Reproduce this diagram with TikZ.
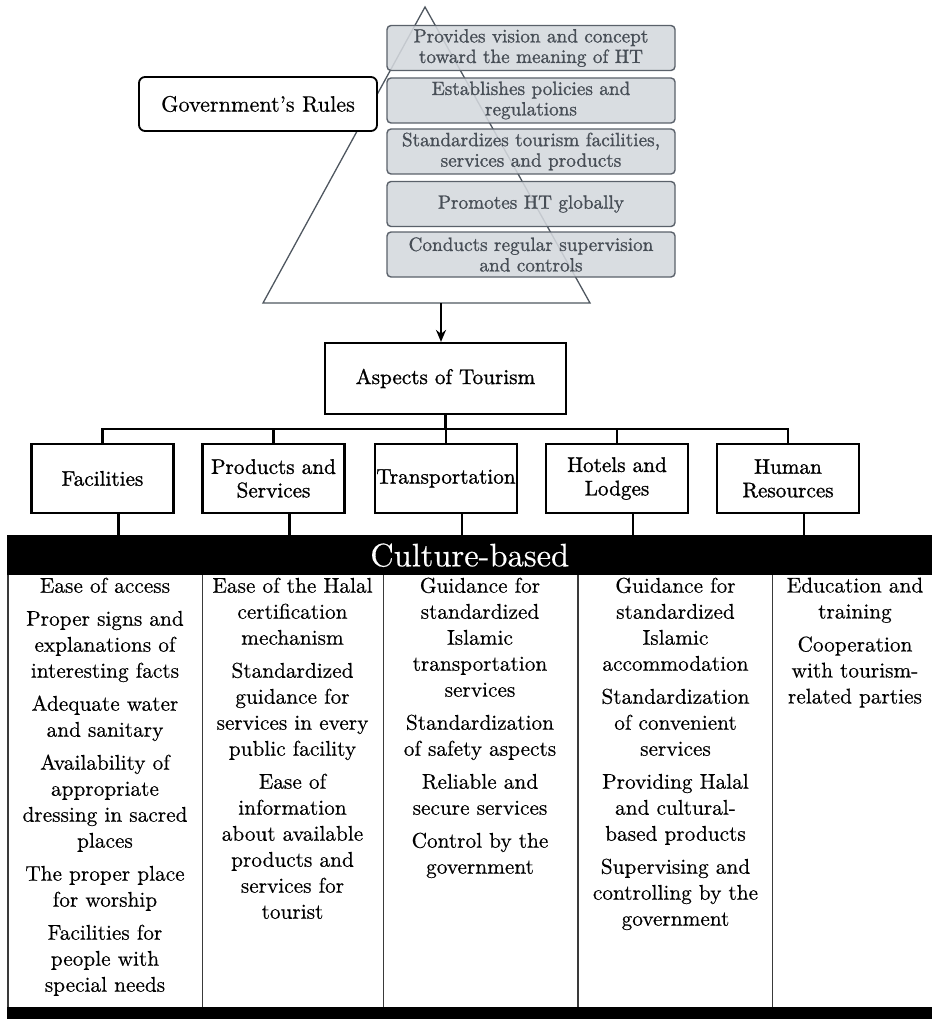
\documentclass[tikz,border=0pt]{standalone}
\usepackage{fontspec}
\newfontfamily\bodyfont{lmroman10-regular.otf}[FakeBold=0.4]
\newfontfamily\labelfont{lmroman10-regular.otf}[FakeBold=1.1]
\usetikzlibrary{arrows.meta}
\definecolor{rulefill}{HTML}{D4D8DD}
\definecolor{ruleedge}{HTML}{5A616A}
\definecolor{ruletext}{HTML}{474E56}
\definecolor{trigray}{HTML}{4F5760}
\definecolor{colsep}{HTML}{3A3A3A}
\begin{document}
\begin{tikzpicture}[x=1pt,y=-1pt,
    rulebox/.style={draw=ruleedge,line width=1.4pt,fill=rulefill,fill opacity=0.88,
      text opacity=1,text=ruletext,rounded corners=4pt,minimum width=288pt,
      minimum height=45pt,inner sep=0pt,align=center,
      font=\labelfont\fontsize{19.2}{20.5}\selectfont},
    aspectbox/.style={draw,line width=2.2pt,fill=white,minimum width=142pt,
      minimum height=69pt,inner sep=0pt,align=center,
      font=\labelfont\fontsize{21.2}{23.5}\selectfont},
    itemtext/.style={anchor=north,inner sep=0pt,align=center,
      font=\bodyfont\fontsize{21.3}{26}\selectfont}]
  \useasboundingbox (0,0) rectangle (932,1019);

  % triangle
  \coordinate (apex) at (425,7); \coordinate (baseR) at (590,303);
  \coordinate (baseL) at (263,303); \coordinate (down) at (441,303);
  \draw[trigray,line width=1.3pt] (apex) -- (baseR) -- (baseL) -- cycle;

  % government box
  \node[draw,line width=1.8pt,fill=white,rounded corners=6pt,minimum width=238pt,
    minimum height=54pt,font=\bodyfont\fontsize{22.2}{26}\selectfont] (gov) at (258,104)
    {Government’s Rules};

  % rules
  \foreach \y/\txt [count=\i] in {48/{Provides vision and concept\\toward the meaning of HT},
      100.5/{Establishes policies and\\regulations},
      151.5/{Standardizes tourism facilities,\\services and products},
      204/{Promotes HT globally},
      254.5/{Conducts regular supervision\\and controls}}
    \node[rulebox] (rule\i) at (531,\y) {\txt};

  % aspects
  \node[aspectbox,minimum width=241pt,minimum height=71pt] (asp) at (445.5,378.5)
    {Aspects of Tourism};
  \draw[line width=1.8pt,-{Stealth[length=12pt,width=10pt]}] (down) -- (down |- asp.north);

  \foreach \x/\nm/\txt in {102.5/fac/Facilities, 273.5/prod/{Products and\\Services},
      446/trans/Transportation, 617/hotel/{Hotels and\\Lodges}, 788/hum/{Human\\Resources}}
    \node[aspectbox] (\nm) at (\x,478.5) {\txt};

  % bus
  \coordinate (bus) at (0,429);
  \draw[line width=2.2pt] (asp.south) -- (asp.south |- bus);
  \draw[line width=2.2pt,line cap=rect] (fac.north |- bus) -- (hum.north |- bus);
  \foreach \nm in {fac,prod,trans,hotel,hum}
    \draw[line width=2.2pt] (\nm.north) -- (\nm.north |- bus);

  % culture bar
  \node[fill=black,text=white,minimum width=925pt,minimum height=40pt,inner sep=0pt,
    anchor=north west,font=\bodyfont\fontsize{32.5}{38}\selectfont] (bar) at (7,535)
    {Culture-based};
  \foreach \nm in {fac,prod,trans,hotel,hum}
    \draw[line width=2.2pt] ([xshift=16pt]\nm.south) -- ([xshift=16pt]\nm.south |- bar.north);

  % table
  \foreach \x in {8,202.5,383.5,578,772.5}
    \draw[colsep,line width=1.3pt] (\x,575) -- (\x,1007);
  \fill (7,1007) rectangle (932,1019);

  % column texts
  \node[itemtext] (col1) at (105,577.5) {Ease of access\\[7pt]
    Proper signs and\\explanations of\\interesting facts\\[7pt]
    Adequate water\\and sanitary\\[7pt]
    Availability of\\appropriate\\dressing in sacred\\places\\[7pt]
    The proper place\\for worship\\[7pt]
    Facilities for\\people with\\special needs};
  \node[itemtext] (col2) at (292.5,577.5) {Ease of the Halal\\certification\\mechanism\\[7pt]
    Standardized\\guidance for\\services in every\\public facility\\[7pt]
    Ease of\\information\\about available\\products and\\services for\\tourist};
  \node[itemtext] (col3) at (480,577.5) {Guidance for\\standardized\\Islamic\\transportation\\services\\[7pt]
    Standardization\\of safety aspects\\[7pt]
    Reliable and\\secure services\\[7pt]
    Control by the\\government};
  \node[itemtext] (col4) at (675.5,577.5) {Guidance for\\standardized\\Islamic\\accommodation\\[7pt]
    Standardization\\of convenient\\services\\[7pt]
    Providing Halal\\and cultural-\\based products\\[7pt]
    Supervising and\\controlling by the\\government};
  \node[itemtext] (col5) at (855,577.5) {Education and\\training\\[7pt]
    Cooperation\\with tourism-\\related parties};
\end{tikzpicture}
\end{document}
